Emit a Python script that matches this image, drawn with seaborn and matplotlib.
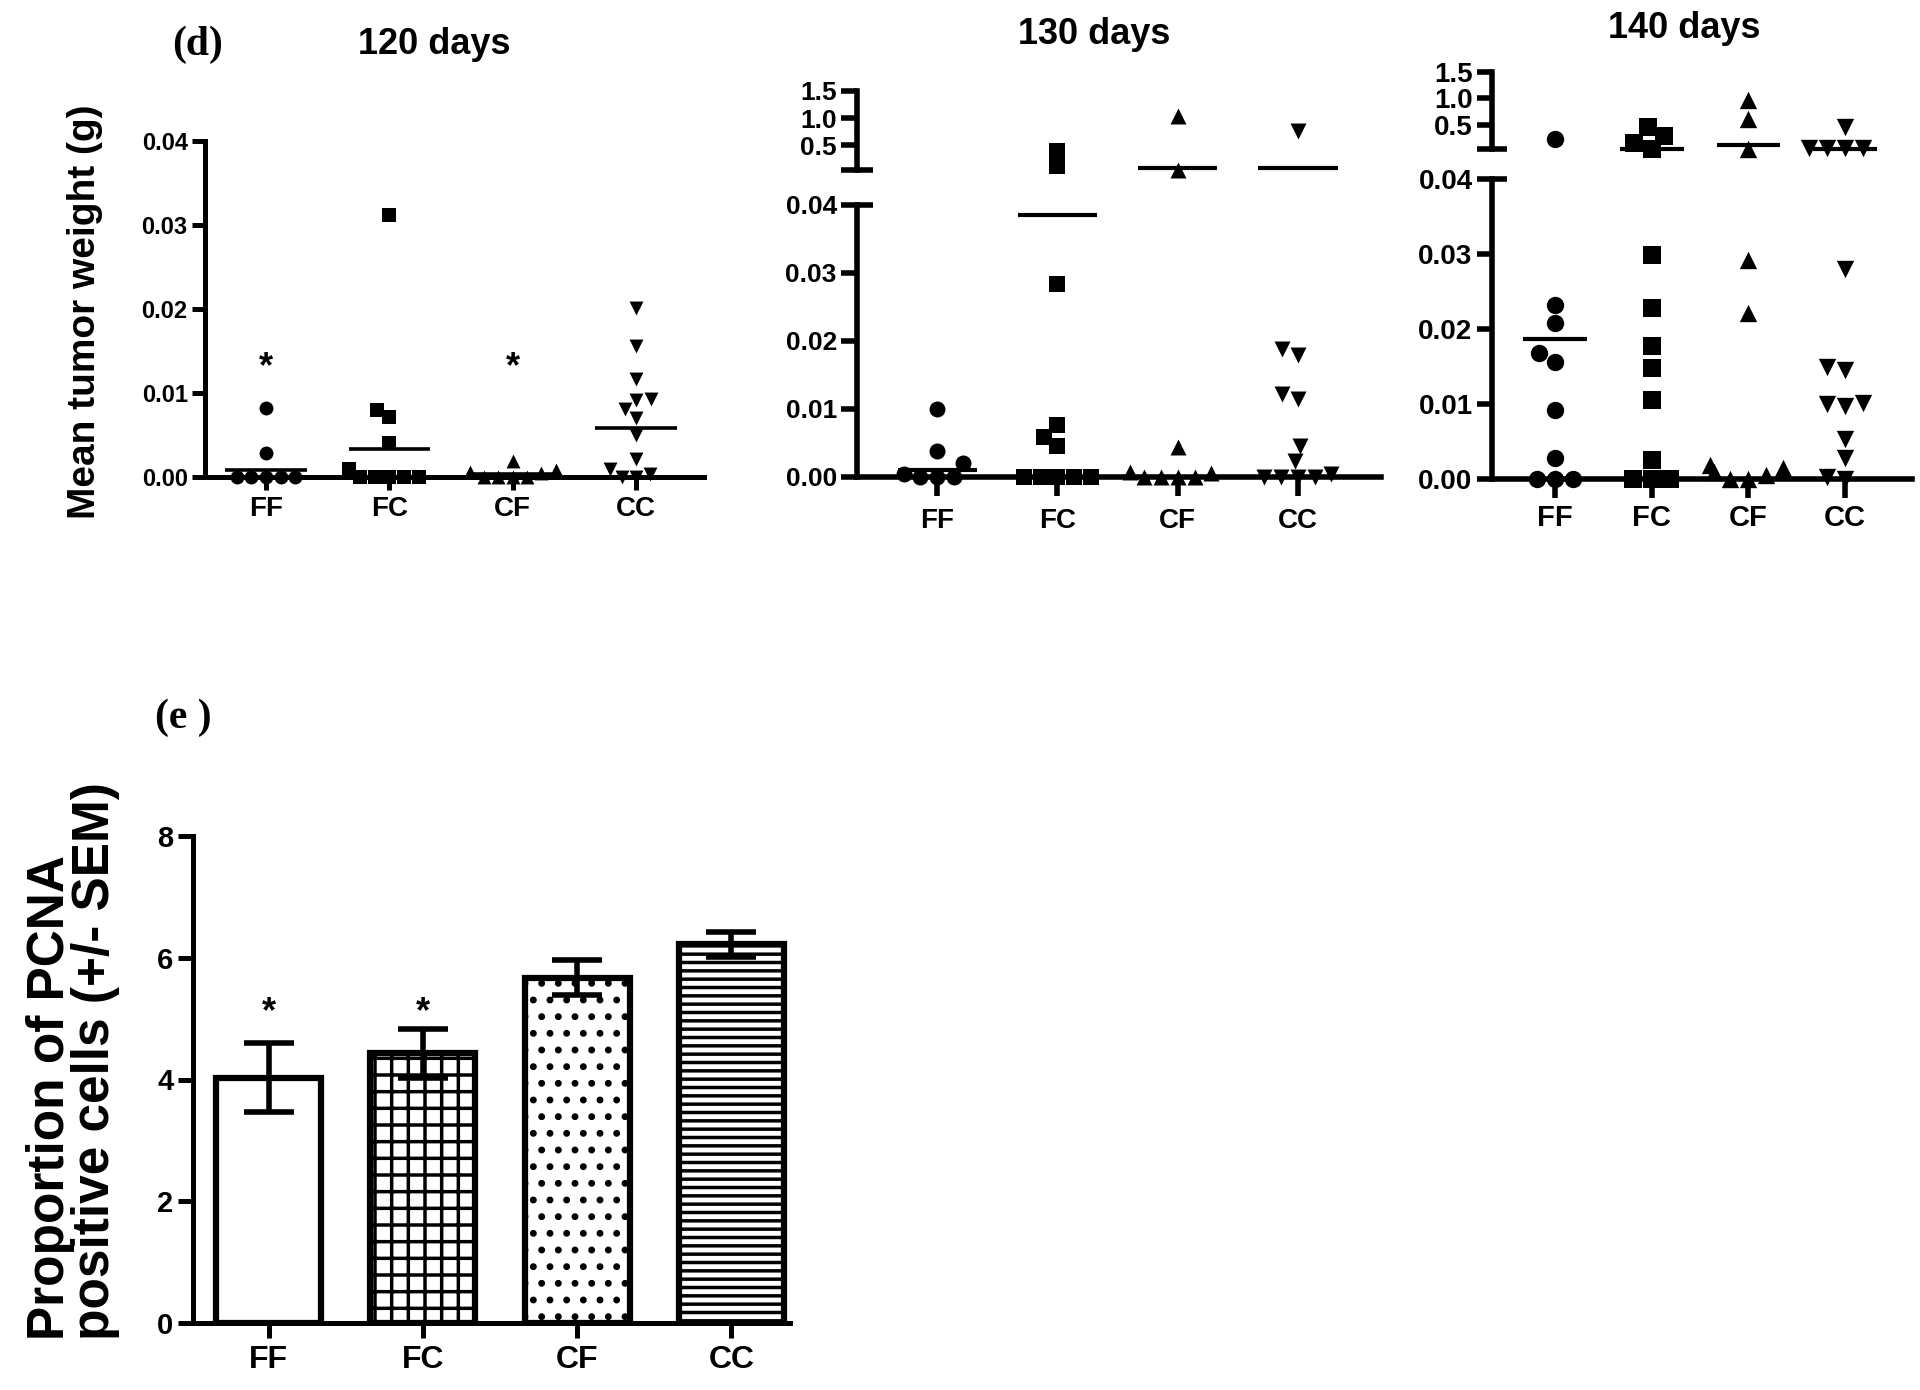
import matplotlib
matplotlib.use('Agg')
import matplotlib.pyplot as plt
import seaborn as sns

groups = ['FF', 'FC', 'CF', 'CC']
markers = ['o', 's', '^', 'v']

# (d) tumour weight (g) per animal
d120_ff = [0.0082, 0.0029, 0, 0, 0, 0, 0]
d120_fc = [0.0312, 0.0080, 0.0072, 0.0040, 0.0010, 0, 0, 0, 0, 0]
d120_cf = [0.0019, 0.0008, 0.0006, 0.0005, 0, 0, 0, 0]
d120_cc = [0.0201, 0.0156, 0.0117, 0.0093, 0.0092, 0.0081, 0.0070, 0.0050,
           0.0022, 0.0010, 0.0003, 0, 0]
d120_mean = [0.0008, 0.0033, 0.0003, 0.0058]
d120_star = [0.013, None, 0.013, None]

d130_ff = [0.0100, 0.0038, 0.0020, 0.0005, 0, 0, 0]
d130_fc = [0.40, 0.105, 0.0284, 0.0076, 0.0059, 0.0046, 0, 0, 0, 0, 0]
d130_cf = [1.03, 0.045, 0.0044, 0.0008, 0.0006, 0, 0, 0, 0]
d130_cc = [0.77, 0.0188, 0.0180, 0.0122, 0.0115, 0.0045, 0.0023, 0.0004, 0, 0, 0, 0]
d130_mean = [0.001, 0.0385, 0.07, 0.07]

d140_ff = [0.23, 0.0232, 0.0208, 0.0168, 0.0156, 0.0092, 0.0028, 0, 0, 0]
d140_fc = [0.46, 0.29, 0.15, 0.045, 0.0299, 0.0228, 0.0177, 0.0148, 0.0106, 0.0025, 0, 0, 0]
d140_cf = [0.97, 0.61, 0.045, 0.0292, 0.0221, 0.0019, 0.0015, 0.0010, 0.0005, 0, 0]
d140_cc = [0.46, 0.06, 0.06, 0.06, 0.06, 0.0280, 0.0149, 0.0145, 0.0101, 0.0100,
           0.0098, 0.0053, 0.0028, 0.0003, 0]
d140_mean = [0.0187, 0.045, 0.116, 0.045]

# (e) PCNA positive cells, mean +/- SEM
pcna_mean = [4.03, 4.43, 5.67, 6.22]
pcna_sem = [0.57, 0.40, 0.29, 0.21]
pcna_star = [5.1, 5.1, None, None]
hatches = ['', '+', '.', '--']

sns.set_theme(style='ticks')
plt.rcParams['font.family'] = ['Liberation Sans', 'DejaVu Sans']
plt.rcParams['font.weight'] = 'bold'
plt.rcParams['text.color'] = 'black'
plt.rcParams['axes.labelcolor'] = 'black'
plt.rcParams['hatch.linewidth'] = 2.5

W, H = 1920, 1390
fig = plt.figure(figsize=(W / 100, H / 100), dpi=100)


def box(l, t, r, b):
    return [l / W, 1 - b / H, (r - l) / W, (b - t) / H]


def scatter_panel(ax, ax_up, data, means, size, mlw):
    for i, vals in enumerate(data):
        lo = [v for v in vals if v <= 0.04]
        hi = [v for v in vals if v > 0.04]
        sns.swarmplot(x=[groups[i]] * len(lo), y=lo, order=groups, marker=markers[i],
                      color='black', size=size, ax=ax)
        if hi:
            sns.swarmplot(x=[groups[i]] * len(hi), y=hi, order=groups, marker=markers[i],
                          color='black', size=size, ax=ax_up)
        target = ax_up if means[i] > 0.04 else ax
        target.hlines(means[i], i - 0.33, i + 0.33, color='black', lw=mlw, zorder=5, clip_on=False)
    for a in [ax, ax_up]:
        if a is None:
            continue
        for c in a.collections:
            c.set_clip_on(False)


def style_lower(ax, xlim, lw, ylen, xlen, yfs, xfs, xpad, broken):
    sns.despine(ax=ax)
    for s in ['left', 'bottom']:
        ax.spines[s].set_linewidth(lw)
        ax.spines[s].set_color('black')
    ax.set_ylim(0, 0.04)
    ax.set_xlim(*xlim)
    ax.set_xticks(range(4), groups)
    if broken:
        ax.set_yticks([0, 0.01, 0.02, 0.03], ['0.00', '0.01', '0.02', '0.03'])
        ax.set_yticks([0.04], ['0.04'], minor=True)
        ax.tick_params(axis='y', which='minor', direction='inout', length=2 * ylen,
                       width=lw, labelsize=yfs, left=True, pad=3, colors='black')
    else:
        ax.set_yticks([0, 0.01, 0.02, 0.03, 0.04], ['0.00', '0.01', '0.02', '0.03', '0.04'])
    ax.tick_params(axis='y', which='major', direction='out', length=ylen, width=lw,
                   labelsize=yfs, left=True, pad=3, colors='black')
    ax.tick_params(axis='x', which='major', direction='out', length=xlen, width=lw,
                   labelsize=xfs, bottom=True, pad=xpad, colors='black')
    ax.set_xlabel('')
    ax.set_ylabel('')


def style_upper(ax, xlim, lw, ylen, yfs):
    sns.despine(ax=ax, bottom=True)
    ax.spines['left'].set_linewidth(lw)
    ax.spines['left'].set_color('black')
    ax.set_ylim(0.04, 1.5)
    ax.set_xlim(*xlim)
    ax.set_xticks([])
    ax.set_yticks([0.5, 1.0, 1.5], ['0.5', '1.0', '1.5'])
    ax.set_yticks([0.04], [''], minor=True)
    ax.tick_params(axis='y', which='major', direction='out', length=ylen, width=lw,
                   labelsize=yfs, left=True, pad=3, colors='black')
    ax.tick_params(axis='y', which='minor', direction='inout', length=2 * ylen, width=lw,
                   left=True, colors='black')
    ax.set_xlabel('')
    ax.set_ylabel('')
    ax.patch.set_alpha(0)


# ---- 120 days
ax120 = fig.add_axes(box(205, 141, 704, 477))
scatter_panel(ax120, None, [d120_ff, d120_fc, d120_cf, d120_cc], d120_mean, 10, 2.6)
for i, s in enumerate(d120_star):
    if s is not None:
        ax120.text(i, s, '*', ha='center', va='center', fontsize=26, fontweight='bold')
style_lower(ax120, (-0.494, 3.55), 3.6, 9.5, 9, 17, 20, 5, False)

# ---- 130 days
ax130 = fig.add_axes(box(857, 205, 1381, 477))
ax130u = fig.add_axes(box(857, 91, 1381, 170))
scatter_panel(ax130, ax130u, [d130_ff, d130_fc, d130_cf, d130_cc], d130_mean, 11.5, 3)
style_lower(ax130, (-0.667, 3.69), 4, 11.5, 14, 19, 20, 8, True)
style_upper(ax130u, (-0.667, 3.69), 4, 11.5, 19)

# ---- 140 days
ax140 = fig.add_axes(box(1492, 179, 1912, 479))
ax140u = fig.add_axes(box(1492, 72, 1912, 149))
scatter_panel(ax140, ax140u, [d140_ff, d140_fc, d140_cf, d140_cc], d140_mean, 12.5, 3)
style_lower(ax140, (-0.65, 3.69), 4, 11, 14, 20, 21, 4, True)
style_upper(ax140u, (-0.65, 3.69), 4, 11, 20)

# ---- (e) PCNA bar chart
axe = fig.add_axes(box(193, 836, 790, 1323))
sns.barplot(x=groups, y=pcna_mean, order=groups, color='white', edgecolor='black',
            linewidth=4.5, width=0.68, errorbar=None, ax=axe)
for patch, h in zip(axe.patches, hatches):
    patch.set_hatch(h)
    patch.set_facecolor('white')
axe.errorbar(range(4), pcna_mean, yerr=pcna_sem, fmt='none', ecolor='black',
             elinewidth=4, capsize=18, capthick=4, zorder=4)
for i, s in enumerate(pcna_star):
    if s is not None:
        axe.text(i, s, '*', ha='center', va='center', fontsize=26, fontweight='bold')
sns.despine(ax=axe)
for s in ['left', 'bottom']:
    axe.spines[s].set_linewidth(3.6)
    axe.spines[s].set_color('black')
axe.set_ylim(0, 8)
axe.set_xlim(-0.49, 3.38)
axe.set_yticks([0, 2, 4, 6, 8])
axe.tick_params(axis='y', direction='out', length=11, width=3.6, labelsize=21, left=True,
                pad=3, colors='black')
axe.tick_params(axis='x', direction='out', length=11, width=3.6, labelsize=23, bottom=True,
                pad=5, colors='black')
axe.set_xlabel('')
axe.set_ylabel('')

# ---- titles and labels
serif = ['Liberation Serif', 'DejaVu Serif']
fig.text(198 / W, 1 - 45 / H, '(d)', family=serif, fontweight='bold', fontsize=30,
         ha='center', va='center')
fig.text(434 / W, 1 - 45 / H, '120 days', fontweight='bold', fontsize=26, ha='center', va='center')
fig.text(1094 / W, 1 - 34 / H, '130 days', fontweight='bold', fontsize=26, ha='center', va='center')
fig.text(1684 / W, 1 - 28 / H, '140 days', fontweight='bold', fontsize=26, ha='center', va='center')
fig.text(85 / W, 1 - 312 / H, 'Mean tumor weight (g)', rotation=90, fontweight='bold',
         fontsize=28, ha='center', va='center')
fig.text(183 / W, 1 - 718 / H, '(e )', family=serif, fontweight='bold', fontsize=30,
         ha='center', va='center')
fig.text(73 / W, 1 - 1061 / H, 'Proportion of PCNA\npositive cells (+/- SEM)', rotation=90,
         fontweight='bold', fontsize=37, ha='center', va='center', linespacing=0.9,
         multialignment='left')

fig.savefig('out.png', dpi=100, facecolor='white')
